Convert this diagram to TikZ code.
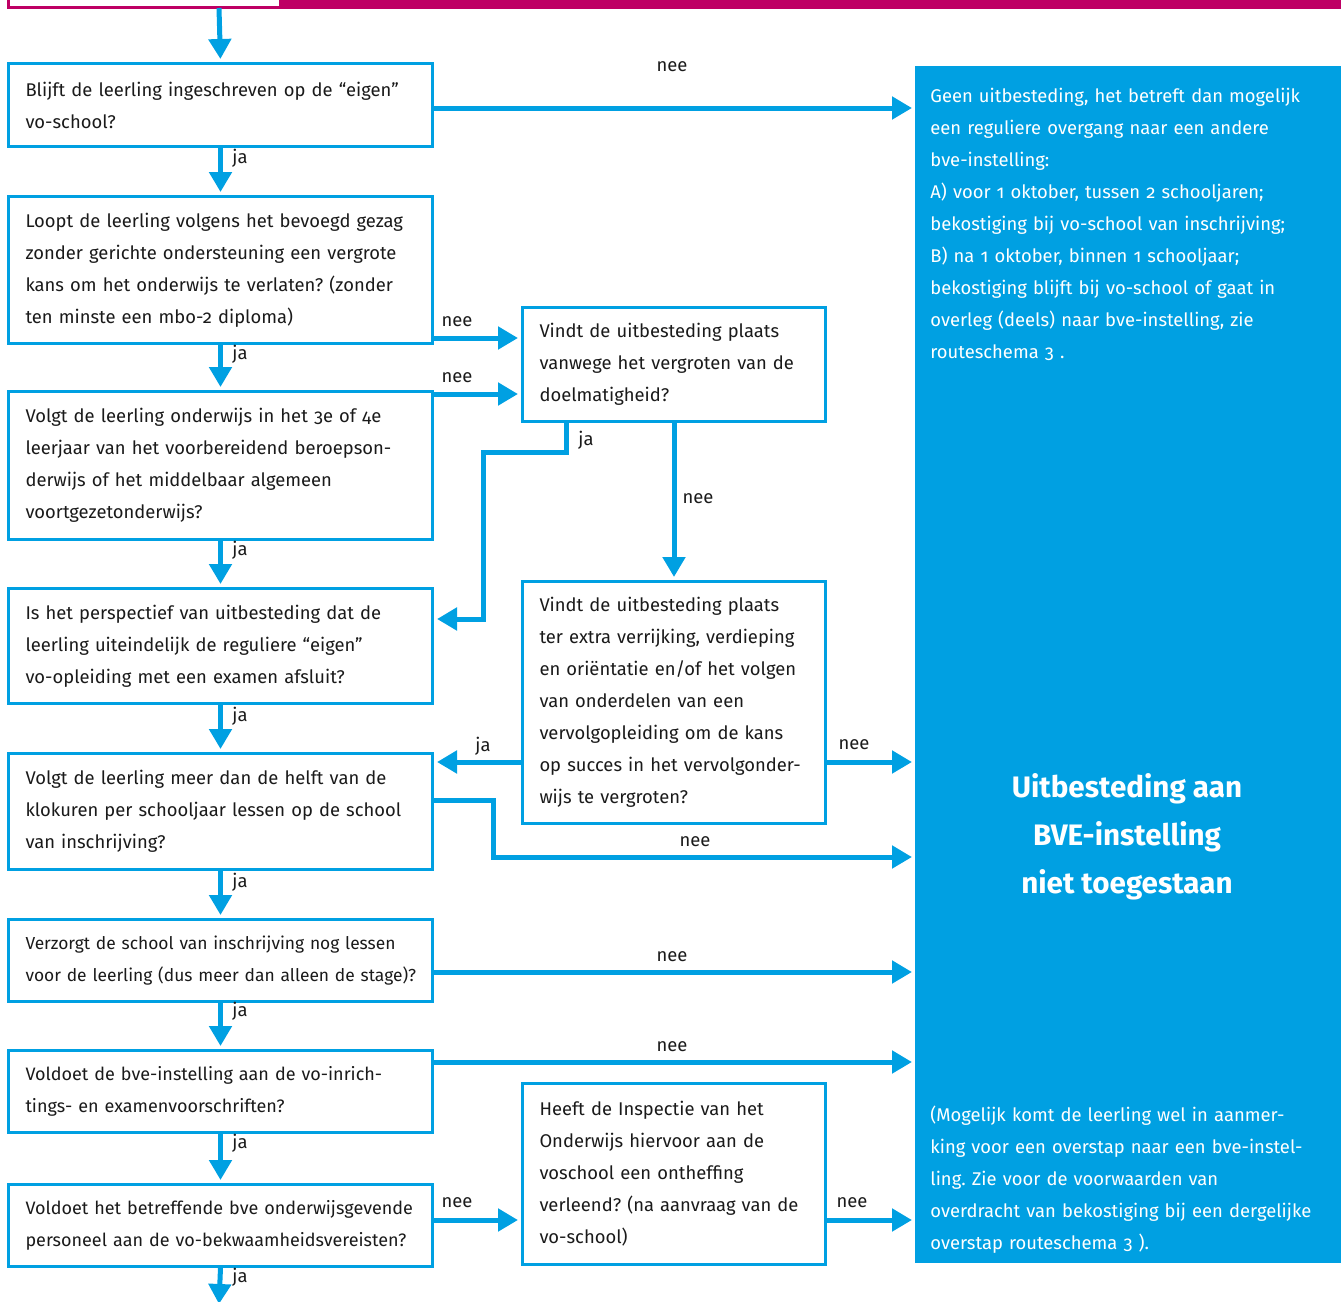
\documentclass[tikz,border=0pt]{standalone}
\usepackage{fontspec}
\setmainfont{Fira Sans}[Numbers=OldStyle]
\usetikzlibrary{arrows.meta, positioning}
\definecolor{hemelblauw}{HTML}{00A0E2}
\definecolor{roze}{HTML}{BE0064}
\definecolor{tekst}{HTML}{1A1A1A}
\frenchspacing

\begin{document}
\begin{tikzpicture}[
    x=0.5pt, y=-0.5pt,
    every node/.style={font=\fontsize{9.2}{16}\selectfont, text=tekst, inner sep=0pt},
    question/.style={draw=hemelblauw, line width=1.5pt, rectangle, anchor=north west, align=left, text width=195pt, inner xsep=8.5pt},
    sidequestion/.style={question, text width=134.5pt},
    panel/.style={fill=hemelblauw, anchor=north west, minimum width=213pt, minimum height=598.5pt},
    paneltext/.style={text=white, align=left, anchor=west, text width=200pt},
    answer/.style={font=\fontsize{9.2}{11}\selectfont},
    arrow/.style={-{Triangle[length=10pt, width=11pt]}, line width=2.5pt, draw=hemelblauw, shorten >=1.5pt}
]
\useasboundingbox (0,0) rectangle (1341,1302);
\clip (0,0) rectangle (1341,1302);

% bovenbalk
\draw[roze, line width=1.5pt] (8,-20) rectangle (280,7);
\fill[roze] (280,-20) rectangle (1341,8.5);
\coordinate (start) at (219,8);
\coordinate (eind) at (219,1304);

% vragen links
\node[question, minimum height=41.5pt] (q1) at (7,62) {Blijft de leerling ingeschreven op de “eigen”\\vo-school?};
\node[question, minimum height=73.5pt] (q2) at (7,195) {Loopt de leerling volgens het bevoegd gezag\\zonder gerichte ondersteuning een vergrote\\kans om het onderwijs te verlaten? (zonder\\ten minste een mbo-2 diploma)};
\node[question, minimum height=74pt] (q3) at (7,390) {Volgt de leerling onderwijs in het 3e of 4e\\leerjaar van het voorbereidend beroepson-\\derwijs of het middelbaar algemeen\\voortgezetonderwijs?};
\node[question, minimum height=57.5pt] (q4) at (7,587) {Is het perspectief van uitbesteding dat de\\leerling uiteindelijk de reguliere “eigen”\\vo-opleiding met een examen afsluit?};
\node[question, minimum height=58pt] (q5) at (7,752) {Volgt de leerling meer dan de helft van de\\klokuren per schooljaar lessen op de school\\van inschrijving?};
\node[question, minimum height=41pt, font=\fontsize{8.7}{16}\selectfont] (q6) at (7,918) {\mbox{Verzorgt de school van inschrijving nog lessen}\\\mbox{voor de leerling (dus meer dan alleen de stage)?}};
\node[question, minimum height=41pt, font=\fontsize{9}{16}\selectfont] (q7) at (7,1049) {Voldoet de bve-instelling aan de vo-inrich-\\tings- en examenvoorschriften?};
\node[question, minimum height=41pt, font=\fontsize{9}{16}\selectfont] (q8) at (7,1183) {\mbox{Voldoet het betreffende bve onderwijsgevende}\\personeel aan de vo-bekwaamheidsvereisten?};

% vragen midden
\node[sidequestion, minimum height=57pt] (qa) at (521,306) {Vindt de uitbesteding plaats\\vanwege het vergroten van de\\doelmatigheid?};
\node[sidequestion, minimum height=121pt] (qb) at (521,580) {Vindt de uitbesteding plaats\\ter extra verrijking, verdieping\\en oriëntatie en/of het volgen\\van onderdelen van een\\vervolgopleiding om de kans\\op succes in het vervolgonder-\\wijs te vergroten?};
\node[sidequestion, minimum height=90.5pt] (qc) at (521,1082) {Heeft de Inspectie van het\\Onderwijs hiervoor aan de\\voschool een ontheffing\\verleend? (na aanvraag van de\\vo-school)};

% blauw vlak rechts
\node[panel] (panel) at (915,66) {};
\node[paneltext] (geen) at (930,224) {Geen uitbesteding, het betreft dan mogelijk\\een reguliere overgang naar een andere\\bve-instelling:\\A) voor 1 oktober, tussen 2 schooljaren;\\bekostiging bij vo-school van inschrijving;\\B) na 1 oktober, binnen 1 schooljaar;\\bekostiging blijft bij vo-school of gaat in\\overleg (deels) naar bve-instelling, zie\\routeschema 3 .};
\node[text=white, align=center, font=\fontsize{14.8}{24}\selectfont\bfseries] (verbod) at (1127,837) {Uitbesteding aan\\BVE-instelling\\niet toegestaan};
\node[paneltext] (mogelijk) at (930,1180) {(Mogelijk komt de leerling wel in aanmer-\\king voor een overstap naar een bve-instel-\\ling. Zie voor de voorwaarden van\\overdracht van bekostiging bij een dergelijke\\overstap routeschema 3 ).};

% hulppunten
\coordinate (r1) at (0,108);
\coordinate (r2) at (0,338);
\coordinate (r3) at (0,394);
\coordinate (r4) at (0,619);
\coordinate (r5) at (0,762);
\coordinate (r6) at (0,800);
\coordinate (r7) at (0,972);
\coordinate (r8) at (0,1062);
\coordinate (r9) at (0,1220);
\coordinate (knik1) at (483,452);
\coordinate (knik2) at (493,857);

% ja-pijlen
\draw[arrow] (start) -- (q1.north);
\draw[arrow] (q1.south) -- (q2.north);
\draw[arrow] (q2.south) -- (q3.north);
\draw[arrow] (q3.south) -- (q4.north);
\draw[arrow] (q4.south) -- (q5.north);
\draw[arrow] (q5.south) -- (q6.north);
\draw[arrow] (q6.south) -- (q7.north);
\draw[arrow] (q7.south) -- (q8.north);
\draw[arrow, shorten >=0pt] (q8.south) -- (eind);
\draw[arrow] ([xshift=-53.75pt]qa.south) |- (knik1) |- (q4.east |- r4);
\draw[arrow] (qb.west |- r5) -- (q5.east |- r5);

% nee-pijlen
\draw[arrow] (q1.east |- r1) -- (panel.west |- r1);
\draw[arrow] (q2.east |- r2) -- (qa.west |- r2);
\draw[arrow] (q3.east |- r3) -- (qa.west |- r3);
\draw[arrow] (qa.south) -- (qb.north);
\draw[arrow] (qb.east |- r5) -- (panel.west |- r5);
\draw[arrow] (q5.east |- r6) -| (knik2) -- (knik2 -| panel.west);
\draw[arrow] (q6.east |- r7) -- (panel.west |- r7);
\draw[arrow] (q7.east |- r8) -- (panel.west |- r8);
\draw[arrow] (q8.east |- r9) -- (qc.west |- r9);
\draw[arrow] (qc.east |- r9) -- (panel.west |- r9);

% labels
\node[answer] (j1) at (240,158) {ja};
\node[answer] (j2) at (240,354) {ja};
\node[answer] (j3) at (240,550) {ja};
\node[answer] (j4) at (240,716) {ja};
\node[answer] (j5) at (240,882) {ja};
\node[answer] (j6) at (240,1011) {ja};
\node[answer] (j7) at (240,1143) {ja};
\node[answer] (j8) at (240,1277) {ja};
\node[answer] (ja-a) at (586,440) {ja};
\node[answer] (ja-b) at (483,746) {ja};
\node[answer] (n1) at (672,67) {nee};
\node[answer] (n2) at (457,322) {nee};
\node[answer] (n3) at (457,378) {nee};
\node[answer] (nee-a) at (698,499) {nee};
\node[answer] (nee-b) at (854,745) {nee};
\node[answer] (n5) at (695,842) {nee};
\node[answer] (n6) at (672,957) {nee};
\node[answer] (n7) at (672,1047) {nee};
\node[answer] (n8) at (457,1203) {nee};
\node[answer] (nee-c) at (852,1203) {nee};
\end{tikzpicture}
\end{document}
